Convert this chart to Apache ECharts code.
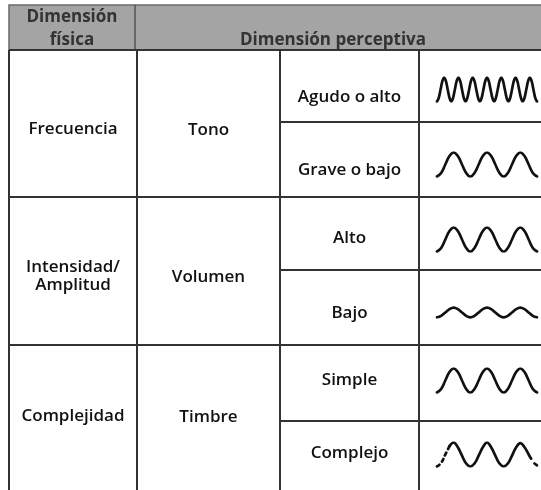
<!DOCTYPE html>
<html><head><meta charset="utf-8">
<script src="https://cdn.jsdelivr.net/npm/echarts@6/dist/echarts.min.js"></script>
<style>html,body{margin:0;padding:0;background:#fff}#c{width:541px;height:490px}</style>
</head><body><div id="c"></div>
<script>
// ---- content ----
const headerLabels = ['Dimensión\nfísica', 'Dimensión perceptiva'];
const physicalDims = ['Frecuencia', 'Intensidad/\nAmplitud', 'Complejidad'];
const perceptualDims = ['Tono', 'Volumen', 'Timbre'];
const qualities = ['Agudo o alto', 'Grave o bajo', 'Alto', 'Bajo', 'Simple', 'Complejo'];

// wave samples, eighth-cycle steps
const waveAgudo = [-1,-0.7,0,0.7,1,0.7,0,-0.7, -1,-0.7,0,0.7,1,0.7,0,-0.7, -1,-0.7,0,0.7,1,0.7,0,-0.7,
  -1,-0.7,0,0.7,1,0.7,0,-0.7, -1,-0.7,0,0.7,1,0.7,0,-0.7, -1,-0.7,0,0.7,1,0.7,0,-0.7,
  -1,-0.7,0,0.7,1,0.7,0,-0.7, -1];
const waveGrave = [-1,-0.7,0,0.7,1,0.7,0,-0.7, -1,-0.7,0,0.7,1,0.7,0,-0.7, -1,-0.7,0,0.7,1,0.7,0,-0.7, -1];
const waveAlto = [-1,-0.7,0,0.7,1,0.7,0,-0.7, -1,-0.7,0,0.7,1,0.7,0,-0.7, -1,-0.7,0,0.7,1,0.7,0,-0.7, -1];
const waveBajo = [-0.4,-0.28,0,0.28,0.4,0.28,0,-0.28, -0.4,-0.28,0,0.28,0.4,0.28,0,-0.28, -0.4,-0.28,0,0.28,0.4,0.28,0,-0.28, -0.4];
const waveSimple = [-1,-0.7,0,0.7,1,0.7,0,-0.7, -1,-0.7,0,0.7,1,0.7,0,-0.7, -1,-0.7,0,0.7,1,0.7,0,-0.7, -1];
const waveComplejoDashX = [0, 1, 2, 3];
const waveComplejoDashY = [-1, -0.7, 0, 0.7];
const waveComplejoX = [3, 4, 5, 6, 7, 8, 9, 10, 11, 12, 13, 14, 15, 16, 17, 18, 19, 20, 21, 22, 22.6];
const waveComplejoY = [0.7, 1, 0.6, -0.1, -0.75, -1, -0.75, -0.1, 0.6, 1, 0.6, -0.1, -0.75, -1, -0.75, -0.1, 0.6, 0.95, 0.6, 0, -0.35];
const waveComplejoEndX = [23.4, 24];
const waveComplejoEndY = [-0.75, -0.9];

// ---- layout ----
const W = 541, H = 490;
const colEdges = [9, 137, 280, 419, 541];
const rowEdges = [50, 122, 197, 270, 345, 421, 490];
const header = {top: 5, bottom: 50, split: 135};
const headerTextPos = [[72, 17, 40], [333, 40]];
const physY = [129, 276, 416];
const qualY = [97, 170, 238, 313, 380, 453];
const waveCenters = [89.5, 164.5, 239.5, 312.5, 380.5, 454.5];
const waveLeft = 437, waveWidth = 100, waveAmp = 12;

const lineColor = '#333';
const textFont = '600 17px "Open Sans"';

// segments
const segs = [];
[0, 2, 4].forEach(function (r) { segs.push([colEdges[0], rowEdges[r], W, rowEdges[r]]); });
[1, 3, 5].forEach(function (r) { segs.push([colEdges[2], rowEdges[r], W, rowEdges[r]]); });
for (let c = 0; c < 4; c++) segs.push([colEdges[c], rowEdges[0], colEdges[c], H]);

// labels
const labels = [];
for (let i = 0; i < 3; i++) {
  const yc = physY[i];
  labels.push([(colEdges[0] + colEdges[1]) / 2, yc, physicalDims[i]]);
  labels.push([(colEdges[1] + colEdges[2]) / 2, yc + 1, perceptualDims[i]]);
}
for (let i = 0; i < 6; i++) labels.push([(colEdges[2] + colEdges[3]) / 2, qualY[i], qualities[i]]);

const chart = echarts.init(document.getElementById('c'), null, {renderer: 'canvas'});

const grids = [{left: 0, top: 0, width: W, height: H}];
const xAxes = [{type: 'value', min: 0, max: W, show: false, gridIndex: 0}];
const yAxes = [{type: 'value', min: 0, max: H, inverse: true, show: false, gridIndex: 0}];
const waveLS = {color: '#111', width: 2.7, cap: 'round', join: 'round'};
const series = [];

function addWaveGrid(i, xmax) {
  grids.push({left: waveLeft, width: waveWidth, top: waveCenters[i] - waveAmp, height: 2 * waveAmp});
  xAxes.push({type: 'value', min: 0, max: xmax, show: false, gridIndex: i + 1});
  yAxes.push({type: 'value', min: -1, max: 1, show: false, gridIndex: i + 1});
}
const regular = [waveAgudo, waveGrave, waveAlto, waveBajo, waveSimple];
regular.forEach(function (w, i) {
  addWaveGrid(i, w.length - 1);
  series.push({type: 'line', xAxisIndex: i + 1, yAxisIndex: i + 1, smooth: 0.4, symbol: 'none',
    lineStyle: waveLS, silent: true, data: w.map(function (v, k) { return [k, v]; })});
});
addWaveGrid(5, 24);
function pairs(xs, ys) { return xs.map(function (x, k) { return [x, ys[k]]; }); }
series.push({type: 'line', xAxisIndex: 6, yAxisIndex: 6, smooth: 0.4, symbol: 'none',
  lineStyle: Object.assign({}, waveLS, {type: [3, 4]}), data: pairs(waveComplejoDashX, waveComplejoDashY)});
series.push({type: 'line', xAxisIndex: 6, yAxisIndex: 6, smooth: 0.4, symbol: 'none',
  lineStyle: waveLS, data: pairs(waveComplejoX, waveComplejoY)});
series.push({type: 'line', xAxisIndex: 6, yAxisIndex: 6, smooth: 0.4, symbol: 'none',
  lineStyle: waveLS, data: pairs(waveComplejoEndX, waveComplejoEndY)});

// header
series.push({
  type: 'custom', xAxisIndex: 0, yAxisIndex: 0, silent: true, z: 1,
  data: [[colEdges[0], header.top, W, header.bottom]],
  encode: {x: [0, 2], y: [1, 3]},
  renderItem: function (params, api) {
    const p1 = api.coord([api.value(0), api.value(1)]);
    const p2 = api.coord([api.value(2), api.value(3)]);
    const ps = api.coord([header.split, header.top]);
    const t1 = headerLabels[0].split('\n');
    const a = api.coord([headerTextPos[0][0], headerTextPos[0][1]]);
    const b = api.coord([headerTextPos[0][0], headerTextPos[0][2]]);
    const c = api.coord([headerTextPos[1][0], headerTextPos[1][1]]);
    const hf = 'bold 17px "Open Sans"';
    return {type: 'group', children: [
      {type: 'rect', shape: {x: p1[0], y: p1[1], width: p2[0] - p1[0] + 2, height: p2[1] - p1[1]},
        style: {fill: '#a4a4a4', stroke: '#6a6a6a', lineWidth: 1.5}},
      {type: 'line', shape: {x1: ps[0], y1: p1[1], x2: ps[0], y2: p2[1]}, style: {stroke: '#555', lineWidth: 1.5}},
      {type: 'text', style: {x: a[0], y: a[1], text: t1[0], font: hf, fill: '#333', align: 'center', verticalAlign: 'middle'}},
      {type: 'text', style: {x: b[0], y: b[1], text: t1[1], font: hf, fill: '#333', align: 'center', verticalAlign: 'middle'}},
      {type: 'text', style: {x: c[0], y: c[1], text: headerLabels[1], font: hf, fill: '#333', align: 'center', verticalAlign: 'middle'}}
    ]};
  }
});

// table lines
series.push({
  type: 'custom', xAxisIndex: 0, yAxisIndex: 0, silent: true, z: 2,
  data: segs, encode: {x: [0, 2], y: [1, 3]},
  renderItem: function (params, api) {
    const p1 = api.coord([api.value(0), api.value(1)]);
    const p2 = api.coord([api.value(2), api.value(3)]);
    return {type: 'line', shape: {x1: p1[0], y1: p1[1], x2: p2[0], y2: p2[1]},
      style: {stroke: lineColor, lineWidth: 2}};
  }
});

// cell labels
series.push({
  type: 'custom', xAxisIndex: 0, yAxisIndex: 0, silent: true, z: 3,
  data: labels.map(function (l, i) { return [l[0], l[1], i]; }),
  encode: {x: 0, y: 1},
  renderItem: function (params, api) {
    const p = api.coord([api.value(0), api.value(1)]);
    const txt = labels[api.value(2)][2];
    return {type: 'text', style: {x: p[0], y: p[1], text: txt, font: textFont, fill: '#111',
      align: 'center', verticalAlign: 'middle', lineHeight: 18}};
  }
});

chart.setOption({animation: false, backgroundColor: '#fff', grid: grids, xAxis: xAxes, yAxis: yAxes, series: series});
</script></body></html>
